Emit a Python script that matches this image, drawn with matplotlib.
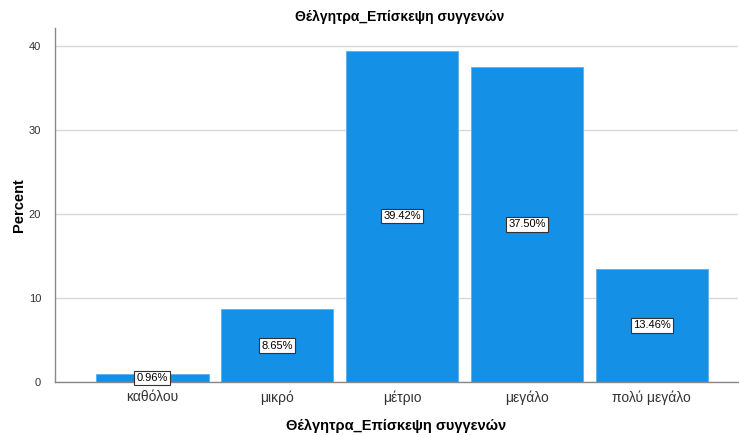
import matplotlib
matplotlib.use("Agg")
import matplotlib.pyplot as plt

categories = ["καθόλου", "μικρό", "μέτριο", "μεγάλο", "πολύ μεγάλο"]
percents = [0.96, 8.65, 39.42, 37.50, 13.46]
yticks = [0, 10, 20, 30, 40]
title = "Θέλγητρα_Επίσκεψη συγγενών"

plt.rcParams['font.family'] = ['Liberation Sans', 'DejaVu Sans']

fig = plt.figure(figsize=(7.39, 4.36), dpi=100)
ax = fig.add_axes([55/739, 54/436, 683/739, (382-28)/436])

x = list(range(len(categories)))
ax.bar(x, percents, width=0.9, color='#1490E6', edgecolor='#5AB0EE', linewidth=0.6, zorder=2)
for xi, v in zip(x, percents):
    ax.text(xi, v/2, f"{v:.2f}%", ha='center', va='center', fontsize=8, color='black', zorder=3,
            bbox=dict(boxstyle='square,pad=0.2', fc='white', ec='#333333', lw=0.8))

ax.set_xlim(-0.78, 4.69)
ax.set_ylim(0, 42.1)
ax.set_yticks(yticks)
ax.set_xticks(x)
ax.set_xticklabels(categories, fontsize=10, color='#333333')
ax.tick_params(axis='y', labelsize=8, length=0, pad=10, colors='#333333')
ax.tick_params(axis='x', length=0, pad=6)
ax.grid(axis='y', color='#D8D8D8', linewidth=1, zorder=0)
ax.set_axisbelow(True)
for s in ['top', 'right']:
    ax.spines[s].set_visible(False)
for s in ['left', 'bottom']:
    ax.spines[s].set_color('#888888')
    ax.spines[s].set_linewidth(1)

ax.set_ylabel("Percent", fontsize=10.5, fontweight='bold', labelpad=2)
ax.set_xlabel(title, fontsize=10.5, fontweight='bold', labelpad=10)
fig.text(400/739, 1-17/436, title, ha='center', va='center', fontsize=10, fontweight='bold')

fig.savefig("out.png", dpi=100)
